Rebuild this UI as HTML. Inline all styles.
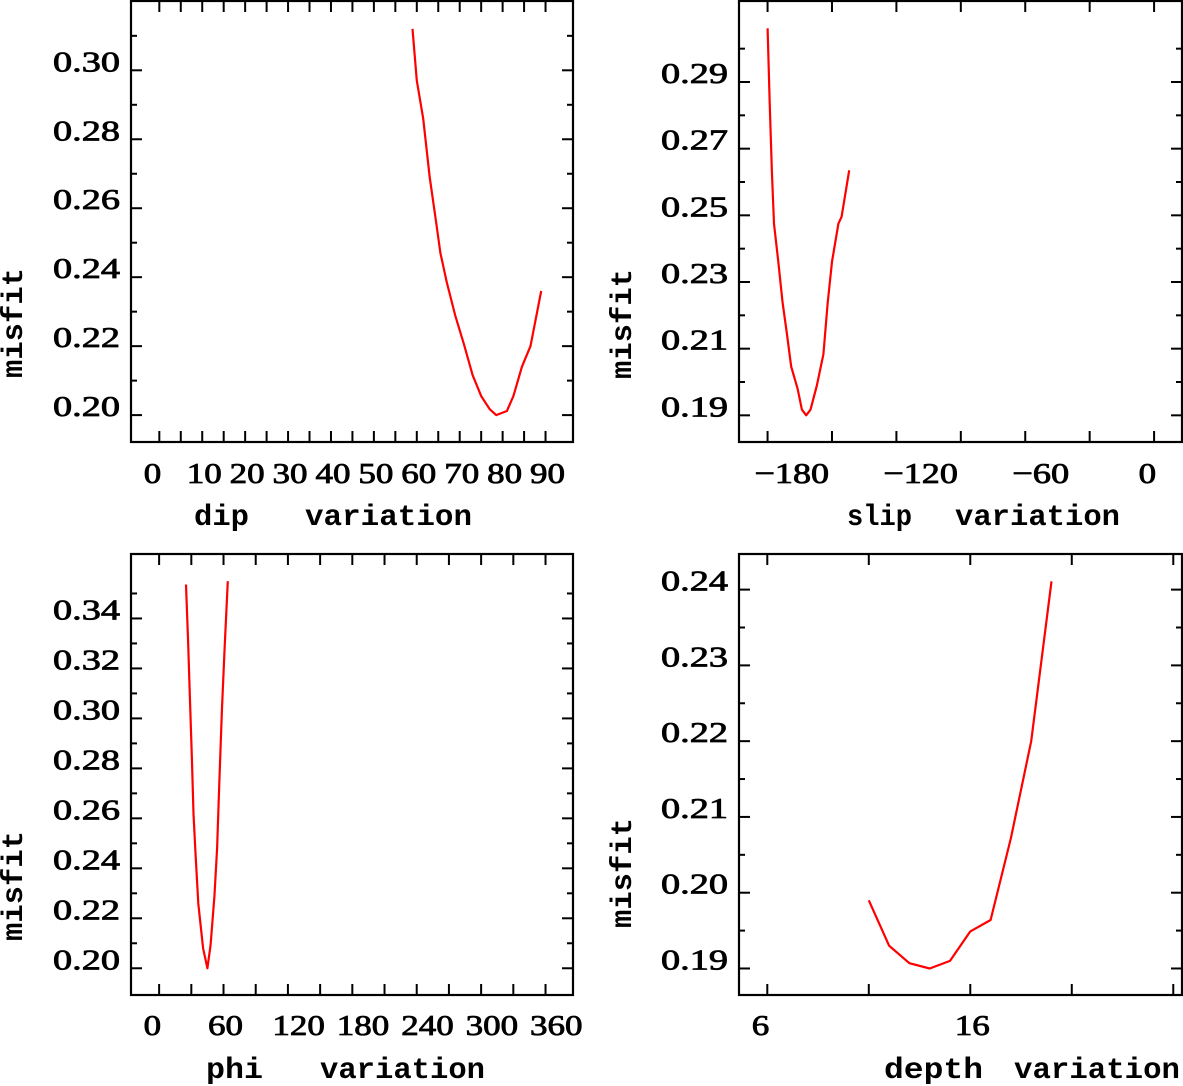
<!DOCTYPE html>
<html><head><meta charset="utf-8">
<style>
html,body{margin:0;padding:0;background:#fff;}
svg{display:block;}
text{font-family:"Liberation Serif",serif;fill:#000;}
.ttl{font-family:"Liberation Mono",monospace;font-weight:bold;}
</style></head>
<body>
<svg id="fig" width="1183" height="1086" viewBox="0 0 1183 1086" xmlns="http://www.w3.org/2000/svg"></svg>
<script>
// ---- data ----
const dipX = [59,60,61.5,63,64.5,65.5,67,69,71,73,75,77,78.5,81,82.5,84.5,86.5,89];
const dipY = [0.312,0.297,0.286,0.269,0.256,0.247,0.2385,0.2287,0.2205,0.2116,0.2055,0.2017,0.200,0.2012,0.2055,0.214,0.220,0.236];
const slipX = [-180,-179,-178,-177,-175,-173,-171,-169,-166,-164,-162,-160,-157,-154,-152,-150,-147,-145.5,-142];
const slipY = [0.3061,0.2837,0.263,0.2475,0.2361,0.2238,0.2145,0.2046,0.198,0.1917,0.190,0.1917,0.199,0.2083,0.2238,0.2361,0.2475,0.2496,0.2635];
const phiX = [25,27,29,30.5,32,34,36.5,41,45,48,51.5,54,56,58.5,61,64];
const phiY = [0.3536,0.3308,0.3046,0.2839,0.2618,0.2453,0.2259,0.208,0.200,0.2094,0.2287,0.248,0.2729,0.3032,0.328,0.3549];
const depthX = [11,12,13,14,15,16,17,18,19,20];
const depthY = [0.1990,0.1930,0.1907,0.1900,0.1910,0.1949,0.1964,0.2072,0.2200,0.2411];

const dipXTicks = [0,5,10,15,20,25,30,35,40,45,50,55,60,65,70,75,80,85,90];
const dipXLabels = [0,10,20,30,40,50,60,70,80,90];
const dipYLabels = [0.20,0.22,0.24,0.26,0.28,0.30];
const dipYMinor = [0.21,0.23,0.25,0.27,0.29,0.31];

const slipXTicks = [-180,-150,-120,-90,-60,-30,0];
const slipXLabels = [-180,-120,-60,0];
const slipYLabels = [0.19,0.21,0.23,0.25,0.27,0.29];
const slipYMinor = [0.18,0.20,0.22,0.24,0.26,0.28,0.30];

const phiXTicks = [0,30,60,90,120,150,180,210,240,270,300,330,360];
const phiXLabels = [0,60,120,180,240,300,360];
const phiYLabels = [0.20,0.22,0.24,0.26,0.28,0.30,0.32,0.34];
const phiYMinor = [0.21,0.23,0.25,0.27,0.29,0.31,0.33,0.35];

const depthXTicks = [6,11,16,21,26];
const depthXLabels = [6,16];
const depthYLabels = [0.19,0.20,0.21,0.22,0.23,0.24];
const depthYMinor = [0.195,0.205,0.215,0.225,0.235];

const NS = "http://www.w3.org/2000/svg";
const svg = document.getElementById('fig');
function mk(tag, attrs, parent){
  const e = document.createElementNS(NS, tag);
  for (const k in attrs) e.setAttribute(k, attrs[k]);
  (parent||svg).appendChild(e);
  return e;
}

function plot(cfg){
  const g = mk('g', {});
  
  
  const [L,T,R,B] = cfg.box;
  const sx = v => L + (v - cfg.xd[0]) / (cfg.xd[1]-cfg.xd[0]) * (R-L);
  const sy = v => B - (v - cfg.yd[0]) / (cfg.yd[1]-cfg.yd[0]) * (B-T);
  const frame = mk('rect', {x:L, y:T, width:R-L, height:B-T, fill:'none', stroke:'#000', 'stroke-width':2.2}, g);
  
  
  cfg.xticks.forEach(v => {
    const x = sx(v);
    const t1 = mk('line', {x1:x, y1:B, x2:x, y2:B-11, stroke:'#000', 'stroke-width':2}, g);
    
    
    const t2 = mk('line', {x1:x, y1:T, x2:x, y2:T+11, stroke:'#000', 'stroke-width':2}, g);
    
    
  });
  cfg.xlabels.forEach(v => {
    const s = String(v).replace('-', '\u2212');
    const neg = v < 0;
    const digits = String(Math.abs(v)).length;
    const w = digits*17.5 + (neg?22:0);
    const tx = mk('text', {x:sx(v)-(neg?13:15.5), y:cfg.xlabY, 'font-size':29, textLength:w, lengthAdjust:'spacingAndGlyphs', stroke:'#000','stroke-width':0.8}, g);
    tx.textContent = s;
    
    
  });
  cfg.ylabels.forEach(v => {
    const y = sy(v);
    const a = mk('line', {x1:L, y1:y, x2:L+11, y2:y, stroke:'#000', 'stroke-width':2}, g);
    
    
    const b = mk('line', {x1:R, y1:y, x2:R-11, y2:y, stroke:'#000', 'stroke-width':2}, g);
    
    
    const tx = mk('text', {x:cfg.ylabR, y:y+1, 'font-size':29, 'text-anchor':'end', textLength:67, lengthAdjust:'spacingAndGlyphs', stroke:'#000','stroke-width':0.8}, g);
    tx.textContent = v.toFixed(2);
    
    
  });
  cfg.yminor.forEach(v => {
    const y = sy(v);
    if (y < T || y > B) return;
    const a = mk('line', {x1:L, y1:y, x2:L+6, y2:y, stroke:'#000', 'stroke-width':2}, g);
    
    
    const b = mk('line', {x1:R, y1:y, x2:R-6, y2:y, stroke:'#000', 'stroke-width':2}, g);
    
    
  });
  const pts = cfg.xs.map((x,i) => sx(x).toFixed(1)+','+sy(cfg.ys[i]).toFixed(1)).join(' ');
  const line = mk('polyline', {points:pts, fill:'none', stroke:'#ff0000', 'stroke-width':2.2, 'stroke-linejoin':'round'}, g);
  
  
  const yt = mk('text', {class:'ttl', x:0, y:0, 'font-size':30, 'text-anchor':'middle', textLength:110, lengthAdjust:'spacingAndGlyphs', transform:'translate('+cfg.ytitle[0]+','+cfg.ytitle[1]+') rotate(-90)'}, g);
  yt.textContent = 'misfit';
  
  
  cfg.xtitle.forEach(w => {
    const t = mk('text', {class:'ttl', x:w[1], y:cfg.xtitleY, 'font-size':30, textLength:w[2]-w[1], lengthAdjust:'spacingAndGlyphs'}, g);
    t.textContent = w[0];
    
    
  });
}

plot({name:'dip-panel', box:[131,1,573,442], xd:[-6.6,96.4], yd:[0.1922,0.3201],
  xticks:dipXTicks, xlabels:dipXLabels, ylabels:dipYLabels, yminor:dipYMinor,
  xs:dipX, ys:dipY, xlabY:483, ylabR:120, ytitle:[22,323],
  xtitle:[['dip',194,249],['variation',305,472]], xtitleY:525});
plot({name:'slip-panel', box:[739,1,1182,442], xd:[-193.3,13.0], yd:[0.182,0.3143],
  xticks:slipXTicks, xlabels:slipXLabels, ylabels:slipYLabels, yminor:slipYMinor,
  xs:slipX, ys:slipY, xlabY:483, ylabR:728, ytitle:[631,324],
  xtitle:[['slip',847,912],['variation',955,1120]], xtitleY:525});
plot({name:'phi-panel', box:[131,554,573,995], xd:[-26.2,385.6], yd:[0.1893,0.3658],
  xticks:phiXTicks, xlabels:phiXLabels, ylabels:phiYLabels, yminor:phiYMinor,
  xs:phiX, ys:phiY, xlabY:1035, ylabR:120, ytitle:[22,886],
  xtitle:[['phi',206,263],['variation',320,485]], xtitleY:1078});
plot({name:'depth-panel', box:[739,554,1182,995], xd:[4.606,26.43], yd:[0.1865,0.2447],
  xticks:depthXTicks, xlabels:depthXLabels, ylabels:depthYLabels, yminor:depthYMinor,
  xs:depthX, ys:depthY, xlabY:1035, ylabR:728, ytitle:[631,873],
  xtitle:[['depth',884,983],['variation',1014,1180]], xtitleY:1078});
</script>
</body></html>
